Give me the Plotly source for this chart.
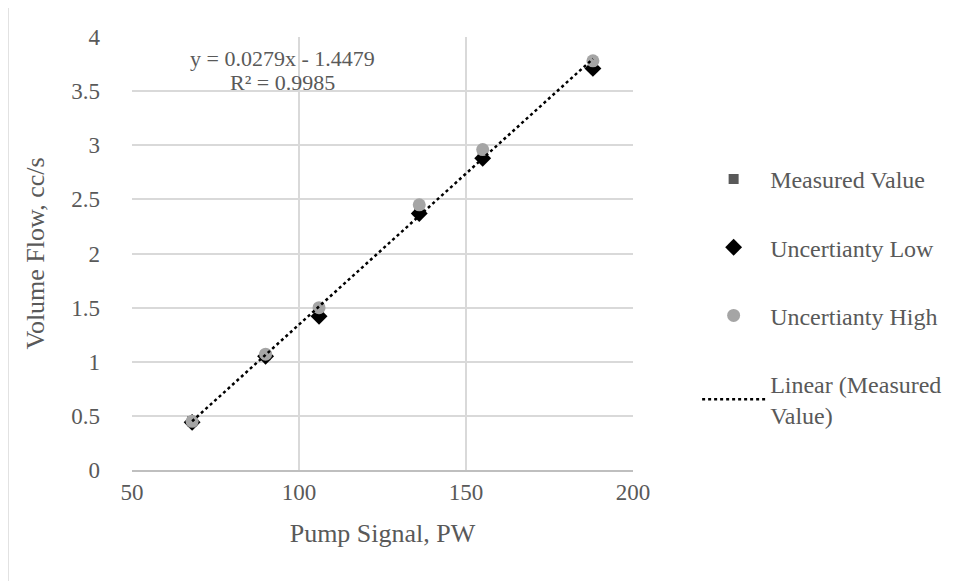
import numpy as np
import plotly.graph_objects as go

pump_signal = [68, 90, 106, 136, 155, 188]
measured = [0.45, 1.06, 1.46, 2.41, 2.92, 3.75]
unc_low = [0.44, 1.05, 1.42, 2.37, 2.88, 3.71]
unc_high = [0.45, 1.07, 1.50, 2.45, 2.96, 3.78]
x_ticks = [50, 100, 150, 200]
y_ticks = [0, 0.5, 1, 1.5, 2, 2.5, 3, 3.5, 4]

slope, intercept = np.polyfit(pump_signal, measured, 1)
fit_x = [min(pump_signal), max(pump_signal)]
fit_y = [slope * v + intercept for v in fit_x]

FONT = "Liberation Serif, Times New Roman, serif"
TXT = "#595959"

fig = go.Figure()
fig.add_trace(go.Scatter(x=pump_signal, y=measured, mode="markers", name="Measured Value",
                         legendgroup="a",
                         marker=dict(symbol="square", size=10, color="#595959")))
fig.add_trace(go.Scatter(x=pump_signal, y=unc_low, mode="markers", name="Uncertianty Low",
                         legendgroup="b",
                         marker=dict(symbol="diamond", size=13, color="#000000")))
fig.add_trace(go.Scatter(x=pump_signal, y=unc_high, mode="markers", name="Uncertianty High",
                         legendgroup="c",
                         marker=dict(symbol="circle", size=13, color="#a5a5a5")))
fig.add_trace(go.Scatter(x=fit_x, y=fit_y, mode="lines", name="Linear (Measured<br>Value)",
                         legendgroup="d",
                         line=dict(color="#000000", width=2.5, dash="dot")))

fig.add_annotation(x=0.301, y=0.951, xref="paper", yref="paper", showarrow=False,
                   xanchor="center", yanchor="middle", text="y = 0.0279x - 1.4479",
                   font=dict(family=FONT, size=22, color=TXT))
fig.add_annotation(x=0.301, y=0.896, xref="paper", yref="paper", showarrow=False,
                   xanchor="center", yanchor="middle", text="R² = 0.9985",
                   font=dict(family=FONT, size=22, color=TXT))

fig.add_shape(type="rect", xref="paper", yref="paper", x0=-0.2475, x1=1.75,
              y0=-0.35, y1=1.0716, line=dict(color="#d9d9d9", width=1.5))

fig.update_layout(
    width=958, height=581,
    margin=dict(l=124, r=333, t=29, b=119),
    paper_bgcolor="white", plot_bgcolor="white",
    font=dict(family=FONT, size=23, color=TXT),
    showlegend=True,
    legend=dict(x=1.128, y=0.723, xanchor="left", yanchor="top",
                font=dict(family=FONT, size=24, color=TXT),
                tracegroupgap=34, itemwidth=63, bgcolor="rgba(0,0,0,0)"),
    xaxis=dict(range=[50, 200], tickvals=x_ticks, showgrid=True, gridcolor="#d9d9d9",
               gridwidth=1.5, zeroline=False, showline=True, linecolor="#bfbfbf",
               linewidth=1.5, mirror=False, ticks="", tickfont=dict(size=23),
               ticklabelstandoff=1, automargin=False,
               title=dict(text="Pump Signal, PW", font=dict(size=26), standoff=19)),
    yaxis=dict(range=[0, 4], tickvals=y_ticks, showgrid=True, gridcolor="#d9d9d9",
               gridwidth=1.5, zeroline=False, showline=False, ticks="",
               tickfont=dict(size=23), ticklabelstandoff=31, automargin=False,
               title=dict(text="Volume Flow, cc/s", font=dict(size=26), standoff=19)),
)

fig.write_html("out.html")
